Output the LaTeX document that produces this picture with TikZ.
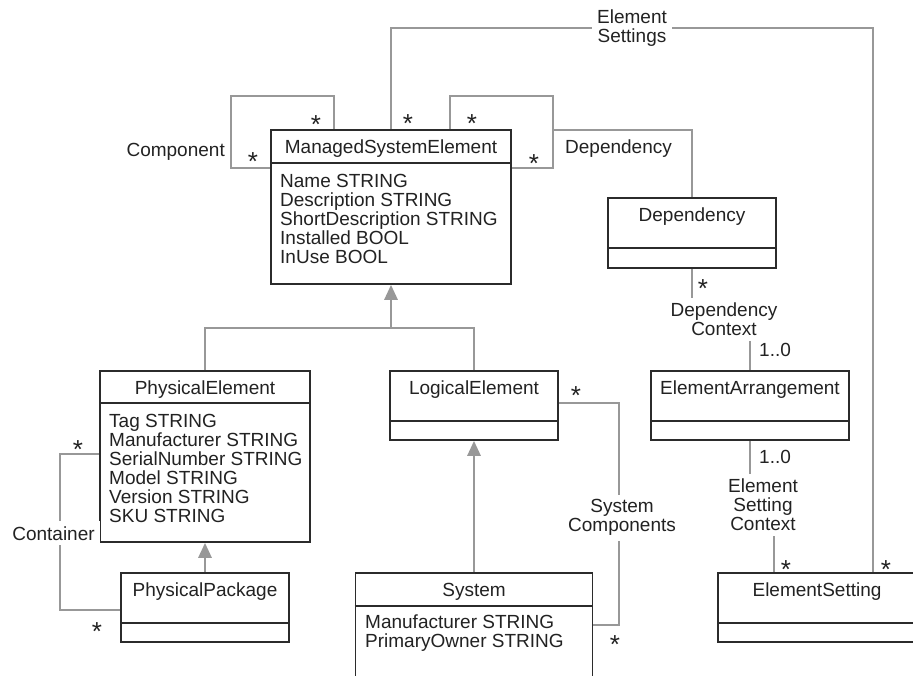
\documentclass[tikz,border=0pt]{standalone}
\usepackage{fontspec}
\setmainfont{Liberation Sans}
\usepackage{xcolor}
\usetikzlibrary{arrows.meta,positioning,calc}
\definecolor{umlline}{HTML}{2B2B2B}
\definecolor{umlgray}{HTML}{989898}
\definecolor{umltext}{HTML}{222222}
\tikzset{
  cls/.style={draw=umlline,line width=1.6pt,fill=white,inner sep=0pt},
  divl/.style={draw=umlline,line width=1.6pt},
  ttl/.style={anchor=base,inner sep=0pt,text=umltext},
  attr/.style={anchor=north west,align=left,inner sep=0pt,text=umltext},
  assoc/.style={draw=umlgray,line width=2.8pt},
  gen/.style={assoc,-{Triangle[width=13pt,length=15pt]}},
  lbl/.style={align=center,inner sep=5pt,text=umltext},
  role/.style={anchor=base,inner sep=0pt,text=umltext},
  mstar/.style={anchor=base,inner sep=0pt,text=umltext,font=\fontsize{26}{26}\selectfont},
}
\begin{document}
\begin{tikzpicture}[x=1pt,y=-1pt,font=\fontsize{19}{19}\selectfont]
  \useasboundingbox (0,0) rectangle (913,675);
  \clip (0,0) rectangle (913,675);
  % classes
  \node[cls,minimum width=240pt,minimum height=154pt] (mse) at (391,207) {};
  \node[ttl] (mset) at ($(mse.north)+(0,24)$) {ManagedSystemElement};
  \draw[divl] (mse.west |- 0,163) -- (mse.east |- 0,163);
  \node[attr] (msea) at (280,174) {Name STRING\\Description STRING\\ShortDescription STRING\\Installed BOOL\\InUse BOOL};
  \node[cls,minimum width=168pt,minimum height=70pt] (dep) at (692,233) {};
  \node[ttl] (dept) at ($(dep.north)+(0,24)$) {Dependency};
  \draw[divl] (dep.west |- 0,248) -- (dep.east |- 0,248);
  \node[cls,minimum width=210pt,minimum height=171pt] (phys) at (205,456.5) {};
  \node[ttl] (physt) at ($(phys.north)+(0,24)$) {PhysicalElement};
  \draw[divl] (phys.west |- 0,403) -- (phys.east |- 0,403);
  \node[attr] (physa) at (109,414) {Tag STRING\\Manufacturer STRING\\SerialNumber STRING\\Model STRING\\Version STRING\\SKU STRING};
  \node[cls,minimum width=168pt,minimum height=69pt] (logi) at (474,405.5) {};
  \node[ttl] (logit) at ($(logi.north)+(0,24)$) {LogicalElement};
  \draw[divl] (logi.west |- 0,421) -- (logi.east |- 0,421);
  \node[cls,minimum width=198pt,minimum height=69pt] (ea) at (750,405.5) {};
  \node[ttl] (eat) at ($(ea.north)+(0,24)$) {ElementArrangement};
  \draw[divl] (ea.west |- 0,421) -- (ea.east |- 0,421);
  \node[cls,minimum width=168pt,minimum height=69pt] (pkg) at (205,607.5) {};
  \node[ttl] (pkgt) at ($(pkg.north)+(0,24)$) {PhysicalPackage};
  \draw[divl] (pkg.west |- 0,623) -- (pkg.east |- 0,623);
  \node[cls,minimum width=237pt,minimum height=127pt] (sys) at (474,636.5) {};
  \node[ttl] (syst) at ($(sys.north)+(0,24)$) {System};
  \draw[divl] (sys.west |- 0,606) -- (sys.east |- 0,606);
  \node[attr] (sysa) at (365,615) {Manufacturer STRING\\PrimaryOwner STRING};
  \node[cls,minimum width=198pt,minimum height=69pt] (es) at (817,607.5) {};
  \node[ttl] (est) at ($(es.north)+(0,24)$) {ElementSetting};
  \draw[divl] (es.west |- 0,623) -- (es.east |- 0,623);
  % link labels
  \node[lbl] (depctx) at (724,319.2) {Dependency\\Context};
  \node[lbl] (esctx) at (763,505.2) {Element\\Setting\\Context};
  % connectors
  \coordinate (depjoin) at (553,130);
  \coordinate (esturn) at (873,28);
  \coordinate (genbar) at (391,328);
  \coordinate (contturn) at (60,610);
  \coordinate (scturn) at (619,625);
  \draw[assoc] (mse.west |- 0,168) -| (231,96) -| (mse.north -| 334,0);
  \draw[assoc] (mse.north -| 450,0) |- (depjoin |- 0,96) |- (mse.east |- 0,168);
  \draw[assoc] (depjoin) -| (dep.north);
  \draw[assoc] (mse.north) |- (esturn) -- (es.north -| esturn);
  \draw[assoc] (phys.north) |- (logi.north |- genbar) -- (logi.north);
  \draw[gen] (genbar) -- (mse.south);
  \draw[gen] (pkg.north) -- (phys.south);
  \draw[gen] (sys.north) -- (logi.south);
  \draw[assoc] (phys.west |- 0,454) -| (contturn) -- (pkg.west |- contturn);
  \draw[assoc] (logi.east |- 0,403) -| (scturn) -- (sys.east |- scturn);
  \draw[assoc] (dep.south) -- (dep.south |- depctx.north);
  \draw[assoc] (ea.north |- depctx.south) -- (ea.north);
  \draw[assoc] (ea.south) -- (ea.south |- esctx.north);
  \draw[assoc] (esctx.south -| 774,0) -- (es.north -| 774,0);
  \node[lbl,fill=white] (esset) at (632,27.7) {Element\\Settings};
  \node[lbl,fill=white,anchor=base] (cont) at (53.5,540) {Container};
  \node[lbl,fill=white] (syscomp) at (622,517.7) {System\\Components};
  \node[role,anchor=base east] (comp) at (225,156) {Component};
  \node[role,anchor=base west] (deplbl) at (565,153) {Dependency};
  \node[role,anchor=base west] (one1) at (759,356) {1..0};
  \node[role,anchor=base west] (one2) at (759,463) {1..0};
  % multiplicities
  \node[mstar] (m1) at (253,170) {*}; \node[mstar] (m2) at (316,133) {*};
  \node[mstar] (m3) at (408,132) {*}; \node[mstar] (m4) at (472,132) {*};
  \node[mstar] (m5) at (534,172) {*}; \node[mstar] (m6) at (703,297) {*};
  \node[mstar] (m7) at (576,404) {*}; \node[mstar] (m8) at (78,458) {*};
  \node[mstar] (m9) at (97,640) {*}; \node[mstar] (m10) at (615,653) {*};
  \node[mstar] (m11) at (786,578) {*}; \node[mstar] (m12) at (886,578) {*};
\end{tikzpicture}
\end{document}
